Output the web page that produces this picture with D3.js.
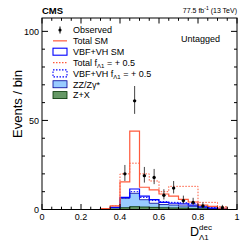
<!DOCTYPE html>
<html>
<head>
<meta charset="utf-8">
<script src="https://cdn.jsdelivr.net/npm/d3@7"></script>
<style>
  body { margin: 0; background: #fff; }
  text { font-family: "Liberation Sans", Arial, sans-serif; }
</style>
</head>
<body>
<div id="chart"></div>
<script>
// bin edges of D_Lambda1^dec
const binEdges = [0.30, 0.35, 0.40, 0.45, 0.50, 0.55, 0.60, 0.65, 0.70, 0.75, 0.80, 0.85, 0.90, 0.95, 1.00];
// per-bin contributions (events / bin)
const zxVals   = [0.1, 0.3, 1.0, 1.6, 1.4, 1.2, 1.0, 0.9, 0.8, 0.6, 0.4, 0.3, 0.2, 0.0];
const zzVals   = [0.3, 0.8, 5.3, 7.5, 4.1, 2.3, 1.8, 1.6, 1.2, 1.2, 0.6, 0.3, 0.1, 0.0];
const vbfSM    = [0.0, 0.1, 0.5, 2.4, 2.0, 2.0, 1.2, 1.0, 1.2, 0.7, 0.5, 0.2, 0.1, 0.0];
const vbfBSM   = [0.0, 0.1, 0.2, 0.9, 1.3, 1.5, 1.6, 1.5, 1.8, 1.6, 1.0, 0.6, 0.3, 0.0];
const totalSM  = [0.5, 2.0, 15.5, 44.0, 12.5, 11.0, 8.7, 7.5, 5.7, 4.2, 2.5, 1.7, 0.8, 0.0];
const totalBSM = [0.5, 2.0, 20.0, 26.0, 20.0, 16.0, 10.0, 13.0, 13.0, 13.0, 4.0, 4.0, 1.7, 0.0];
// observed data
const obsX = [0.425, 0.475, 0.525, 0.575, 0.625, 0.675, 0.725, 0.775, 0.825, 0.925];
const obsN = [20, 61, 19, 18, 8, 12, 5, 4, 2, 1];

const xTicks = [0, 0.2, 0.4, 0.6, 0.8, 1];
const yTicks = [0, 50, 100];

const W = 249, H = 242;
const L = 42, R = 237, T = 18, B = 209.5;

const svg = d3.select("#chart").append("svg")
    .attr("width", W).attr("height", H);

const x = d3.scaleLinear().domain([0, 1]).range([L, R]);
const y = d3.scaleLinear().domain([0, 107.5]).range([B, T]);

// stacked bases
const zxTop = zxVals;
const zzTop = zzVals.map((v, i) => v + zxVals[i]);
const smTop = vbfSM.map((v, i) => v + zzTop[i]);
const bsmTop = vbfBSM.map((v, i) => v + zzTop[i]);

function stepPath(vals) {
    let p = "M" + x(binEdges[0]) + "," + y(0);
    vals.forEach((v, i) => {
        p += "L" + x(binEdges[i]) + "," + y(v) + "L" + x(binEdges[i + 1]) + "," + y(v);
    });
    p += "L" + x(binEdges[binEdges.length - 1]) + "," + y(0);
    return p;
}

const g = svg.append("g");

g.append("path").attr("d", stepPath(zzTop) + "Z")
    .attr("fill", "#99ccff").attr("stroke", "#000099").attr("stroke-width", 0.8);
g.append("path").attr("d", stepPath(zxTop) + "Z")
    .attr("fill", "#669966").attr("stroke", "#003300").attr("stroke-width", 0.8);
g.append("path").attr("d", stepPath(bsmTop))
    .attr("fill", "none").attr("stroke", "#0000ff").attr("stroke-width", 1)
    .attr("stroke-dasharray", "1.5,1.5");
g.append("path").attr("d", stepPath(smTop))
    .attr("fill", "none").attr("stroke", "#0000ff").attr("stroke-width", 1.2);
g.append("path").attr("d", stepPath(totalBSM))
    .attr("fill", "none").attr("stroke", "#ff5a3c").attr("stroke-width", 1)
    .attr("stroke-dasharray", "1.5,1.5");
g.append("path").attr("d", stepPath(totalSM))
    .attr("fill", "none").attr("stroke", "#ff5a3c").attr("stroke-width", 1.2);

// observed points with Poisson-like errors
const obs = obsX.map((v, i) => ({ x: v, n: obsN[i] }));
g.selectAll(".err").data(obs).enter().append("line")
    .attr("x1", d => x(d.x)).attr("x2", d => x(d.x))
    .attr("y1", d => y(d.n - Math.sqrt(d.n + 0.25) + 0.5))
    .attr("y2", d => y(d.n + Math.sqrt(d.n + 0.25) + 0.5))
    .attr("stroke", "#444").attr("stroke-width", 1);
g.selectAll(".pt").data(obs).enter().append("circle")
    .attr("cx", d => x(d.x)).attr("cy", d => y(d.n))
    .attr("r", 1.7).attr("fill", "#000");

// frame
svg.append("rect").attr("x", L).attr("y", T).attr("width", R - L).attr("height", B - T)
    .attr("fill", "none").attr("stroke", "#000").attr("stroke-width", 1);

// ticks
const xMinor = d3.range(0, 1.0001, 0.05);
const yMinor = d3.range(0, 107, 10);
xMinor.forEach(v => {
    const major = xTicks.some(t => Math.abs(t - v) < 1e-6);
    const len = major ? 5.5 : 2.8;
    svg.append("line").attr("x1", x(v)).attr("x2", x(v)).attr("y1", B).attr("y2", B - len).attr("stroke", "#000");
    svg.append("line").attr("x1", x(v)).attr("x2", x(v)).attr("y1", T).attr("y2", T + len).attr("stroke", "#000");
});
yMinor.forEach(v => {
    const major = yTicks.includes(v);
    const len = major ? 6 : 3;
    svg.append("line").attr("x1", L).attr("x2", L + len).attr("y1", y(v)).attr("y2", y(v)).attr("stroke", "#000");
    svg.append("line").attr("x1", R).attr("x2", R - len).attr("y1", y(v)).attr("y2", y(v)).attr("stroke", "#000");
});

// tick labels
svg.selectAll(".xl").data(xTicks).enter().append("text")
    .attr("x", d => x(d)).attr("y", B + 10.5).attr("text-anchor", "middle")
    .attr("font-size", 9).text(d => d);
svg.selectAll(".yl").data(yTicks).enter().append("text")
    .attr("x", L - 3).attr("y", d => y(d) + 3.2).attr("text-anchor", "end")
    .attr("font-size", 9).text(d => d);

// axis titles
svg.append("text").attr("transform", "translate(21.5,70) rotate(-90)")
    .attr("text-anchor", "end").attr("font-size", 13).text("Events / bin");
const xt = svg.append("text").attr("x", 190).attr("y", 236).attr("font-size", 12.5);
xt.append("tspan").text("D");
xt.append("tspan").attr("font-size", 8).attr("dy", -6.5).text("dec");
xt.append("tspan").attr("font-size", 8).attr("x", 199).attr("dy", 10.5).text("Λ1");

// header
svg.append("text").attr("x", L).attr("y", 14).attr("font-size", 9.5)
    .attr("font-weight", "bold").text("CMS");
const lumi = svg.append("text").attr("x", R).attr("y", 13).attr("text-anchor", "end").attr("font-size", 7);
lumi.append("tspan").text("77.5 fb");
lumi.append("tspan").attr("font-size", 5).attr("dy", -3).text("-1");
lumi.append("tspan").attr("dy", 3).text(" (13 TeV)");

svg.append("text").attr("x", 220).attr("y", 41.5).attr("text-anchor", "end")
    .attr("font-size", 9).text("Untagged");

// legend
const legY0 = 30, legDy = 10.85, symX = 53, symW = 14, txtX = 73;
const legend = [
    { type: "obs", label: "Observed" },
    { type: "line", color: "#ff5a3c", dash: null, label: "Total SM" },
    { type: "box", color: "#0000ff", dash: null, label: "VBF+VH SM" },
    { type: "line", color: "#ff5a3c", dash: "1.5,1.5", label: "Total f", sub: "Λ1", rest: " = + 0.5" },
    { type: "box", color: "#0000ff", dash: "1.5,1.5", label: "VBF+VH f", sub: "Λ1", rest: " = + 0.5" },
    { type: "fill", color: "#99ccff", stroke: "#000099", label: "ZZ/Zγ*" },
    { type: "fill", color: "#669966", stroke: "#003300", label: "Z+X" }
];
legend.forEach((d, i) => {
    const cy = legY0 + i * legDy;
    if (d.type === "obs") {
        svg.append("line").attr("x1", symX + symW / 2).attr("x2", symX + symW / 2)
            .attr("y1", cy - 3.5).attr("y2", cy + 3.5).attr("stroke", "#000");
        svg.append("circle").attr("cx", symX + symW / 2).attr("cy", cy).attr("r", 1.6);
    } else if (d.type === "line") {
        svg.append("line").attr("x1", symX).attr("x2", symX + symW).attr("y1", cy).attr("y2", cy)
            .attr("stroke", d.color).attr("stroke-width", 1.2).attr("stroke-dasharray", d.dash);
    } else if (d.type === "box") {
        svg.append("rect").attr("x", symX).attr("y", cy - 3.5).attr("width", symW).attr("height", 7)
            .attr("fill", "none").attr("stroke", d.color).attr("stroke-width", 1.1)
            .attr("stroke-dasharray", d.dash);
    } else {
        svg.append("rect").attr("x", symX).attr("y", cy - 3.5).attr("width", symW).attr("height", 7)
            .attr("fill", d.color).attr("stroke", d.stroke).attr("stroke-width", 0.8);
    }
    const t = svg.append("text").attr("x", txtX).attr("y", cy + 3.3).attr("font-size", 9);
    t.append("tspan").text(d.label);
    if (d.sub) {
        t.append("tspan").attr("font-size", 6).attr("dy", 2.5).text(d.sub);
        t.append("tspan").attr("dy", -2.5).text(d.rest);
    }
});
</script>
</body>
</html>
